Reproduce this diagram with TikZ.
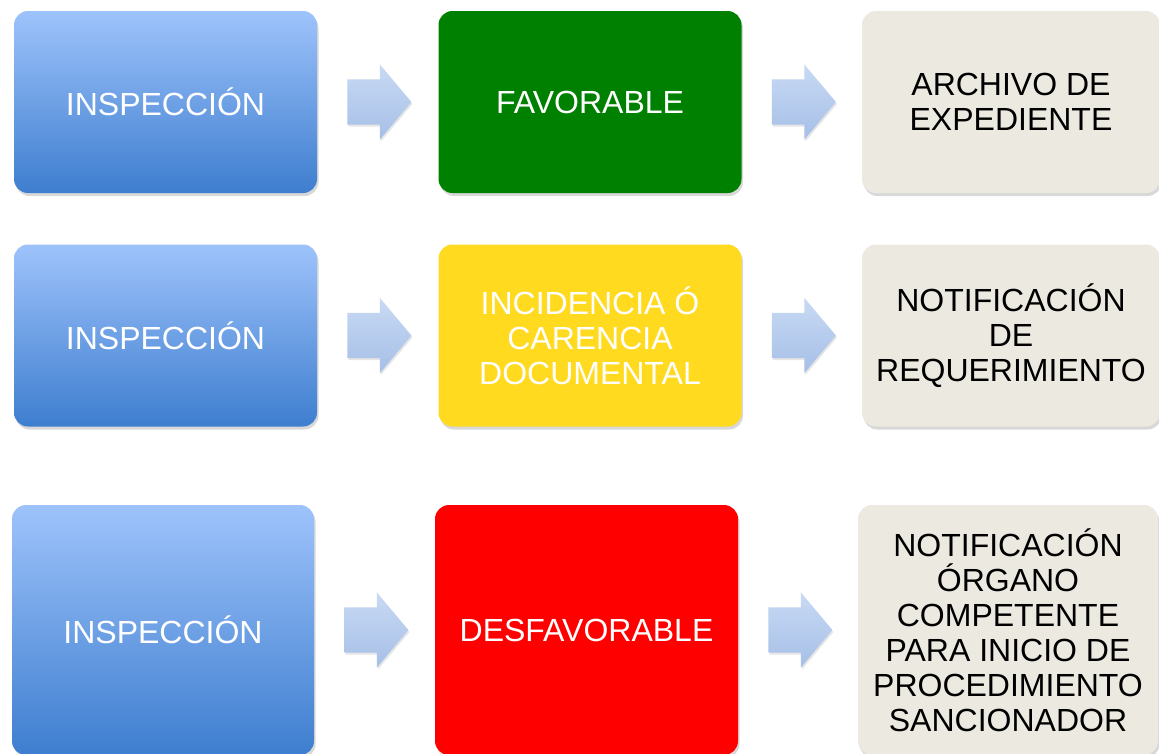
\documentclass[tikz,border=0pt]{standalone}
\usepackage{fontspec}
\setmainfont{Liberation Sans}
\usetikzlibrary{shapes.arrows,shadows,calc}

\definecolor{azulclaro}{HTML}{9EC3FB}
\definecolor{azuloscuro}{HTML}{3E7ECF}
\definecolor{flechaclara}{HTML}{C8DAF4}
\definecolor{flechaoscura}{HTML}{A6BFE7}
\definecolor{verde}{HTML}{008000}
\definecolor{amarillo}{HTML}{FFDA1F}
\definecolor{rojo}{HTML}{FF0000}
\definecolor{gris}{HTML}{ECEAE0}

\begin{document}
\begin{tikzpicture}[x=1pt,y=-1pt,
    paso/.style={rectangle, rounded corners=14pt, minimum width=303pt,
        minimum height=182pt, align=center, inner sep=0pt,
        font=\fontsize{32}{35}\selectfont,
        drop shadow={shadow xshift=1.5pt, shadow yshift=-3pt, opacity=0.3}},
    inspeccion/.style={paso, text=white, top color=azulclaro, bottom color=azuloscuro},
    resultado/.style={paso, text=white, fill=#1},
    actuacion/.style={paso, text=black, fill=gris, minimum width=298pt},
    flecha/.style={single arrow, anchor=tail, minimum height=64pt, inner xsep=0pt,
        inner ysep=22.5pt, single arrow head extend=15pt, single arrow tip angle=100,
        top color=flechaclara, bottom color=flechaoscura,
        drop shadow={shadow xshift=1pt, shadow yshift=-2pt, opacity=0.2}}]

\fill[white] (0,0) rectangle (1159,753);
\useasboundingbox (0,0) rectangle (1159,753);

% fila 1
\node[inspeccion] (i1) at (165.5,102) {INSPECCIÓN};
\node[resultado=verde] (r1) at (590,102) {FAVORABLE};
\node[actuacion] (a1) at (1011,102) {ARCHIVO DE\\EXPEDIENTE};

% fila 2
\node[inspeccion] (i2) at (165.5,335.5) {INSPECCIÓN};
\node[resultado=amarillo] (r2) at (590,335.5) {INCIDENCIA Ó\\CARENCIA\\DOCUMENTAL};
\node[actuacion] (a2) at (1011,335.5) {NOTIFICACIÓN\\DE\\REQUERIMIENTO};

% fila 3
\node[inspeccion, minimum width=302pt, minimum height=250pt] (i3) at (163,630) {INSPECCIÓN};
\node[resultado=rojo, minimum height=250pt] (r3) at (586.5,630) {DESFAVORABLE};
\node[actuacion, minimum width=300pt, minimum height=250pt] (a3) at (1008,630)
    {NOTIFICACIÓN\\ÓRGANO\\COMPETENTE\\PARA INICIO DE\\PROCEDIMIENTO\\SANCIONADOR};

\foreach \i in {1,2,3} {
    \node[flecha] (fa\i) at ($(i\i.east)+(30,0)$) {};
    \node[flecha] (fb\i) at ($(r\i.east)+(30,0)$) {};
}

\end{tikzpicture}
\end{document}
